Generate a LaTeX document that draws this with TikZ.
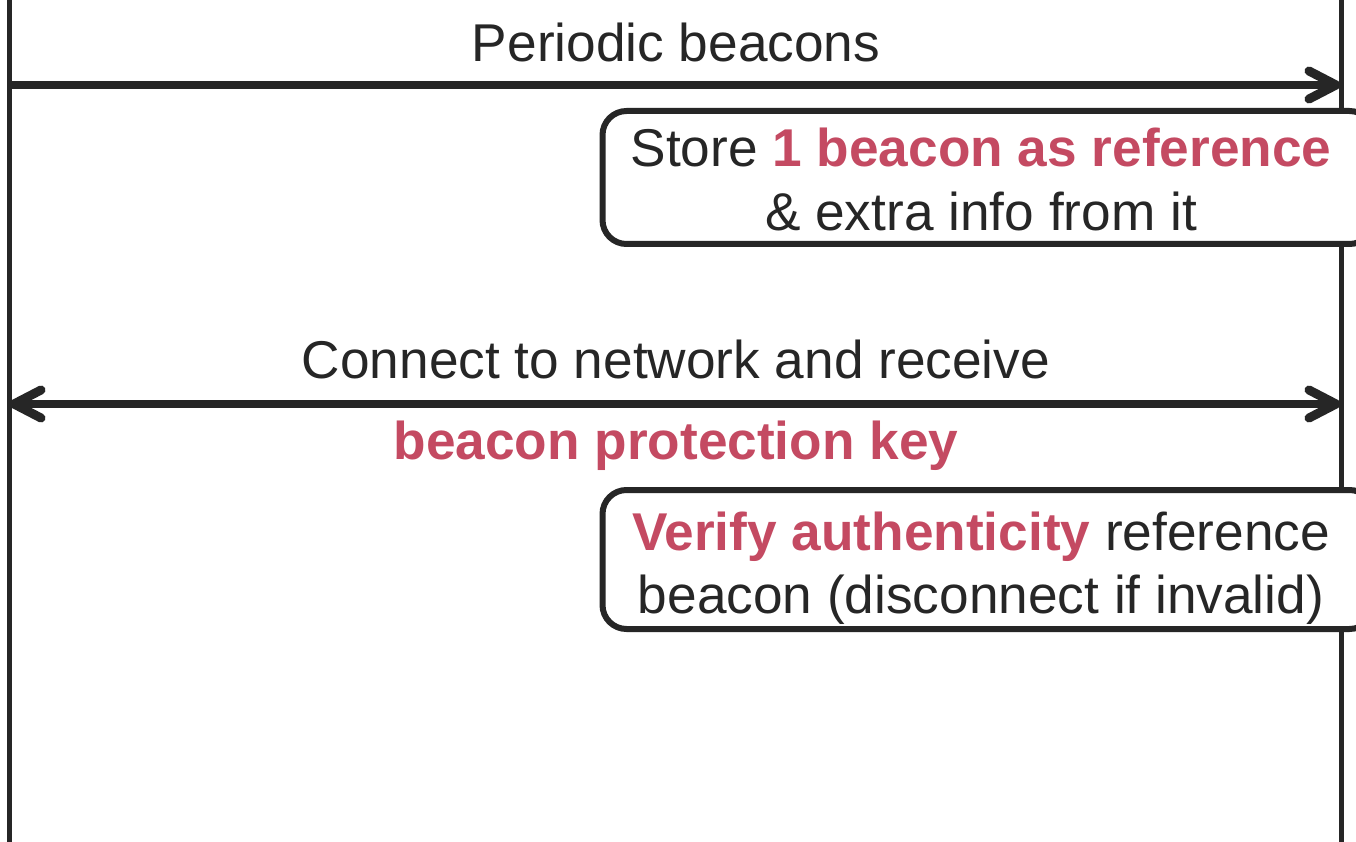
\documentclass[tikz,border=0pt]{standalone}
\usepackage{fontspec}
\setmainfont{Liberation Sans}
\definecolor{ink}{HTML}{262626}
\definecolor{hl}{HTML}{C44A62}
\begin{document}
\begin{tikzpicture}[x=1pt,y=-1pt,
  lane/.style={draw=ink,line width=5pt},
  msg/.style={draw=ink,line width=7.5pt,line cap=round},
  head/.style={draw=ink,line width=9pt,line cap=round,line join=round},
  note/.style={draw=ink,line width=6pt,fill=white,rounded corners=24pt,inner sep=0pt},
  lbl/.style={text=ink,font=\fontsize{53.2}{63}\selectfont,anchor=base,inner sep=0pt},
  hot/.style={text=hl,font=\fontsize{53.2}{63}\selectfont\bfseries,anchor=base,inner sep=0pt}]
\useasboundingbox (0,0) rectangle (1356,842);
\fill[white] (0,0) rectangle (1356,842);
% lifelines
\coordinate (Ltop) at (9,-5); \coordinate (Lbot) at (9,847);
\coordinate (Rtop) at (1341,-5); \coordinate (Rbot) at (1341,847);
\draw[lane] (Ltop) -- (Lbot);
\draw[lane] (Rtop) -- (Rbot);
% message 1
\coordinate (m1s) at (12,85); \coordinate (m1e) at (1336,85);
\draw[msg] (m1s) -- (m1e);
\draw[head] (m1e) ++(-27,-14) -- (m1e) -- ++(-27,14);
\node[lbl] (m1t) at (676,62) {Periodic beacons};
% note 1
\node[note,minimum width=771pt,minimum height=133pt] (b1) at (988,177.5) {};
\node[lbl] (b1l1) at (981,167) {Store {\bfseries\color{hl}1 beacon as reference}};
\node[lbl] (b1l2) at (981,231) {\& extra info from it};
% message 2
\coordinate (m2s) at (14,404); \coordinate (m2e) at (1336,404);
\draw[msg] (m2s) -- (m2e);
\draw[head] (m2e) ++(-27,-14) -- (m2e) -- ++(-27,14);
\draw[head] (m2s) ++(27,-14) -- (m2s) -- ++(27,14);
\node[lbl] (m2t) at (676,378) {Connect to network and receive};
\node[hot] (m2k) at (676,459) {beacon protection key};
% note 2
\node[note,minimum width=771pt,minimum height=139pt] (b2) at (988,559.5) {};
\node[lbl] (b2l1) at (981,550) {{\bfseries\color{hl}Verify authenticity} reference};
\node[lbl] (b2l2) at (981,613) {beacon (disconnect if invalid)};
\end{tikzpicture}
\end{document}
